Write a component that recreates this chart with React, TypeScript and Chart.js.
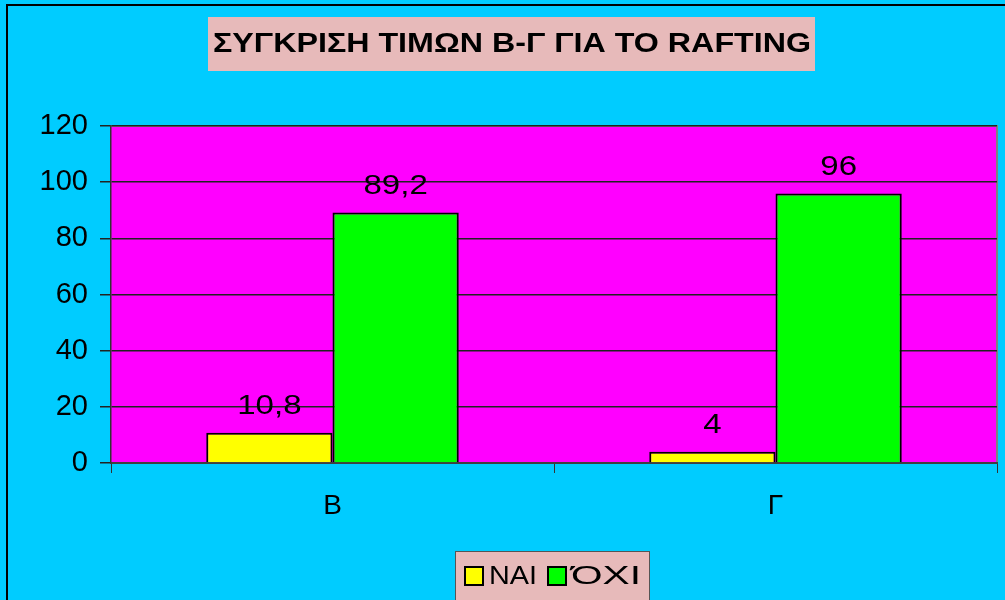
import React, { useEffect, useRef } from "react";
import { Chart, registerables } from "chart.js";

Chart.register(...registerables);

const titleText = "ΣΥΓΚΡΙΣΗ ΤΙΜΩΝ Β-Γ ΓΙΑ ΤΟ RAFTING";
const categories = ["B", "Γ"];
const seriesNames = ["ΝΑΙ", "ΌΧΙ"];
const naiValues = [10.8, 4];
const oxiValues = [89.2, 96];
const valueLabelsNai = ["10,8", "4"];
const valueLabelsOxi = ["89,2", "96"];
const yTicks = { min: 0, max: 120, step: 20 };

const CYAN = "#00CCFF";
const MAGENTA = "#FF00FF";
const PINK = "#E7BABA";
const FONT = "'Liberation Sans', Arial, sans-serif";

function stretchText(ctx: CanvasRenderingContext2D, text: string, cx: number, cy: number, sx: number, align: CanvasTextAlign = "center") {
  ctx.save();
  ctx.translate(cx, cy);
  ctx.scale(sx, 1);
  ctx.textAlign = align;
  ctx.textBaseline = "middle";
  ctx.fillText(text, 0, 0);
  ctx.restore();
}

const decorPlugin = {
  id: "decor",
  beforeDraw(chart: any) {
    const { ctx, chartArea, width, height } = chart;
    ctx.save();
    ctx.fillStyle = CYAN;
    ctx.fillRect(0, 0, width, height);
    // outer border
    ctx.fillStyle = "#000";
    ctx.fillRect(6, 4, width - 6, 2);
    ctx.fillRect(6, 4, 2, height - 4);
    // plot area
    ctx.fillStyle = MAGENTA;
    ctx.fillRect(chartArea.left, chartArea.top, chartArea.right - chartArea.left, chartArea.bottom - chartArea.top);
    ctx.strokeStyle = "#808080";
    ctx.lineWidth = 2;
    ctx.beginPath();
    ctx.moveTo(chartArea.left, chartArea.top);
    ctx.lineTo(chartArea.right, chartArea.top);
    ctx.lineTo(chartArea.right, chartArea.bottom);
    ctx.stroke();
    // title box
    ctx.fillStyle = PINK;
    ctx.fillRect(208, 17, 607, 54);
    ctx.fillStyle = "#000";
    ctx.font = `bold 27px ${FONT}`;
    const tw = ctx.measureText(titleText).width;
    stretchText(ctx, titleText, 512, 45, 598 / tw);
    ctx.restore();
  },
  afterDraw(chart: any) {
    const { ctx } = chart;
    ctx.save();
    // data labels
    ctx.fillStyle = "#000";
    ctx.font = `28px ${FONT}`;
    const labels = [valueLabelsNai, valueLabelsOxi];
    chart.data.datasets.forEach((ds: any, di: number) => {
      const meta = chart.getDatasetMeta(di);
      meta.data.forEach((bar: any, i: number) => {
        stretchText(ctx, labels[di][i], bar.x, bar.y - 26, 1.18);
      });
    });
    // legend
    ctx.fillStyle = PINK;
    ctx.fillRect(455, 551, 195, 49);
    ctx.strokeStyle = "#555";
    ctx.lineWidth = 1;
    ctx.strokeRect(455.5, 551.5, 194, 49);
    const items = [
      { x: 465, tx: 489, color: "#FFFF00", text: seriesNames[0], w: 48 },
      { x: 548, tx: 571, color: "#00FF00", text: seriesNames[1], w: 70 },
    ];
    ctx.font = `26px ${FONT}`;
    items.forEach((it) => {
      ctx.fillStyle = it.color;
      ctx.fillRect(it.x, 567, 18, 18);
      ctx.strokeStyle = "#000";
      ctx.lineWidth = 2;
      ctx.strokeRect(it.x, 567, 18, 18);
      ctx.fillStyle = "#000";
      const w = ctx.measureText(it.text).width;
      stretchText(ctx, it.text, it.tx, 577, it.w / w, "left");
    });
    ctx.restore();
  },
};

export default function App() {
  const ref = useRef<HTMLCanvasElement | null>(null);
  useEffect(() => {
    if (!ref.current) return;
    const chart = new Chart(ref.current, {
      type: "bar",
      data: {
        labels: categories,
        datasets: [
          {
            label: seriesNames[0],
            data: naiValues,
            backgroundColor: "#FFFF00",
            borderColor: "#000",
            borderWidth: 2,
            categoryPercentage: 0.57,
            barPercentage: 1,
          },
          {
            label: seriesNames[1],
            data: oxiValues,
            backgroundColor: "#00FF00",
            borderColor: "#000",
            borderWidth: 2,
            categoryPercentage: 0.57,
            barPercentage: 1,
          },
        ],
      },
      options: {
        responsive: false,
        animation: false,
        layout: { padding: { top: 126, right: 8, left: 0, bottom: 0 } },
        plugins: {
          legend: { display: false },
          title: { display: false },
          tooltip: { enabled: false },
        },
        scales: {
          x: {
            afterFit: (scale: any) => {
              scale.height = 137;
            },
            grid: {
              drawOnChartArea: false,
              offset: true,
              tickLength: 10,
              color: "#333",
            },
            border: { display: true, color: "#404040", width: 2 },
            ticks: {
              color: "#000",
              padding: 16,
              font: { size: 28, family: FONT },
            },
          },
          y: {
            min: yTicks.min,
            max: yTicks.max,
            afterFit: (scale: any) => {
              scale.width = 111;
            },
            grid: {
              color: "#222",
              lineWidth: 1.5,
              tickLength: 11,
            },
            border: { display: true, color: "#333", width: 1.5 },
            ticks: {
              stepSize: yTicks.step,
              color: "#000",
              padding: 12,
              font: { size: 29, family: FONT },
            },
          },
        },
      },
      plugins: [decorPlugin],
    });
    return () => chart.destroy();
  }, []);
  return (
    <div style={{ position: "fixed", left: 0, top: 0, width: 1005, height: 600 }}>
      <canvas ref={ref} width={1005} height={600} style={{ display: "block" }} />
    </div>
  );
}
